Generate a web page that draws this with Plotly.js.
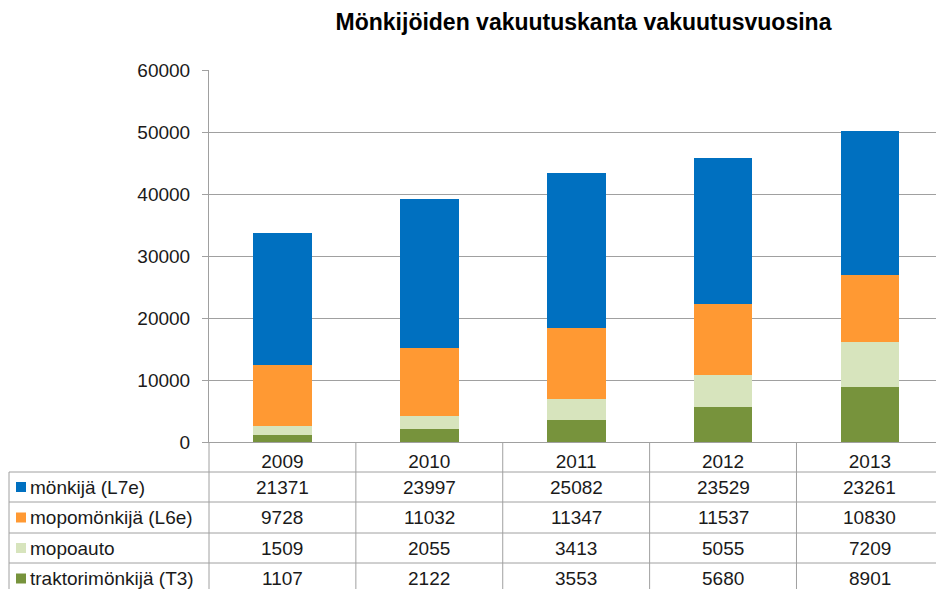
<!DOCTYPE html>
<html>
<head>
<meta charset="utf-8">
<script src="https://cdn.plot.ly/plotly-3.0.1.min.js"></script>
<style>html,body{margin:0;padding:0;background:#fff;}#chart{width:936px;height:589px;}</style>
</head>
<body>
<div id="chart"></div>
<script>
// ---- data ----
const years = ["2009", "2010", "2011", "2012", "2013"];
const seriesNames = ["mönkijä (L7e)", "mopomönkijä (L6e)", "mopoauto", "traktorimönkijä (T3)"];
const monkija = [21371, 23997, 25082, 23529, 23261];
const mopomonkija = [9728, 11032, 11347, 11537, 10830];
const mopoauto = [1509, 2055, 3413, 5055, 7209];
const traktorimonkija = [1107, 2122, 3553, 5680, 8901];
const seriesValues = [monkija, mopomonkija, mopoauto, traktorimonkija];
const seriesColors = ["#0070C0", "#FF9933", "#D7E4BD", "#77933C"];
const yTicks = [0, 10000, 20000, 30000, 40000, 50000, 60000];
const chartTitle = "Mönkijöiden vakuutuskanta vakuutusvuosina";

// ---- layout geometry ----
const W = 936, H = 589;
const mL = 209, mT = 70, mB = 147, mR = 0;
const plotH = H - mT - mB; // 372
const plotW = W - mL - mR;
const py = px => -(px - (H - mB)) / plotH; // pixel y -> paper y
const pxX = px => (px - mL) / plotW;
const font = "Liberation Sans, Arial, sans-serif";
const gridCol = "#A0A0A0";
const txtCol = "#1a1a1a";
const fs = 19;

// stack order bottom -> top
const order = [3, 2, 1, 0];
const traces = order.map(i => ({
  type: "bar",
  x: years,
  y: seriesValues[i],
  name: seriesNames[i],
  marker: {color: seriesColors[i], line: {width: 0}},
  width: 0.4,
  hoverinfo: "x+y+name"
}));

// table rows
const rowLines = [472, 502, 533, 563, 594];
const shapes = [];
const annotations = [];
for (let r = 0; r < rowLines.length - 1; r++) {
  shapes.push({type: "line", xref: "paper", yref: "paper", x0: pxX(9), x1: 1.02,
    y0: py(rowLines[r]), y1: py(rowLines[r]), line: {color: gridCol, width: 1}});
}
shapes.push({type: "line", xref: "paper", yref: "paper", x0: pxX(9), x1: pxX(9),
  y0: py(472), y1: py(600), line: {color: gridCol, width: 1}});
shapes.push({type: "line", xref: "paper", yref: "paper", x0: 0, x1: 0,
  y0: py(442), y1: py(600), line: {color: gridCol, width: 1}});
for (let k = 0; k < years.length - 1; k++) {
  shapes.push({type: "line", xref: "x", yref: "paper", x0: k + 0.5, x1: k + 0.5,
    y0: py(442), y1: py(600), line: {color: gridCol, width: 1}});
}
for (let r = 0; r < seriesNames.length; r++) {
  const yc = py((rowLines[r] + rowLines[r + 1]) / 2);
  shapes.push({type: "rect", xref: "paper", yref: "paper",
    x0: pxX(16), x1: pxX(26), y0: yc - 5 / plotH, y1: yc + 5 / plotH,
    fillcolor: seriesColors[r], line: {width: 0}});
  annotations.push({xref: "paper", yref: "paper", x: pxX(28), y: yc, xanchor: "left", yanchor: "middle",
    text: seriesNames[r], showarrow: false, font: {family: font, size: fs, color: txtCol}});
  for (let k = 0; k < years.length; k++) {
    annotations.push({xref: "x", yref: "paper", x: k, y: yc, xanchor: "center", yanchor: "middle",
      text: String(seriesValues[r][k]), showarrow: false, font: {family: font, size: fs, color: txtCol}});
  }
}

const layout = {
  width: W, height: H,
  margin: {l: mL, r: mR, t: mT, b: mB, pad: 0},
  paper_bgcolor: "#fff", plot_bgcolor: "#fff",
  barmode: "stack",
  showlegend: false,
  title: {text: "<b>" + chartTitle + "</b>", x: 583.5 / W, xanchor: "center", y: 1 - 22 / H, yanchor: "middle",
    font: {family: font, size: 23, color: "#000"}},
  xaxis: {
    type: "category", range: [-0.5, 4.45], fixedrange: true,
    showline: true, linecolor: gridCol, linewidth: 1,
    showgrid: false, ticks: "", tickfont: {family: font, size: fs, color: txtCol},
    ticklabelstandoff: 2, zeroline: false
  },
  yaxis: {
    range: [0, 60000], tickvals: yTicks, ticktext: yTicks.map(String),
    showline: true, linecolor: gridCol, linewidth: 1,
    showgrid: true, gridcolor: gridCol, gridwidth: 1,
    ticks: "outside", ticklen: 6, tickcolor: gridCol,
    tickfont: {family: font, size: fs, color: txtCol},
    ticklabelstandoff: 8, zeroline: false, fixedrange: true
  },
  shapes: shapes,
  annotations: annotations
};

Plotly.newPlot("chart", traces, layout, {displayModeBar: false, staticPlot: true});
</script>
</body>
</html>
